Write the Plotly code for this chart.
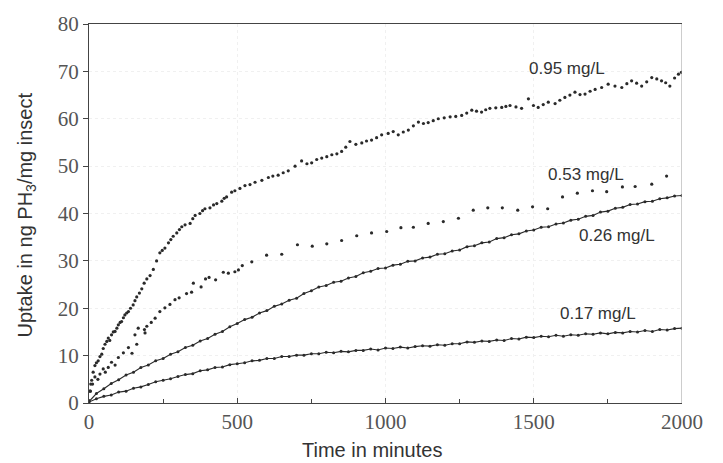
import plotly.graph_objects as go

# ---- data ----
t_grid = list(range(0, 2001, 25))

uptake_017 = [0.2, 0.9, 1.4, 1.7, 2.3, 2.5, 3.1, 3.4, 3.9, 4.5, 4.8, 5.1, 5.6, 6.0, 6.2, 6.8, 7.0, 7.5, 7.6, 8.1,
              8.3, 8.5, 8.9, 9.0, 9.4, 9.4, 9.8, 9.8, 10.1, 10.1, 10.4, 10.4, 10.7, 10.6, 10.9, 10.8, 11.1, 11.1, 11.4, 11.2,
              11.6, 11.5, 11.8, 11.6, 11.9, 12.1, 12.0, 12.3, 12.2, 12.5, 12.5, 12.9, 12.8, 13.1, 13.0, 13.3, 13.2, 13.6, 13.5, 13.9,
              13.8, 14.1, 14.0, 14.3, 14.1, 14.4, 14.3, 14.6, 14.5, 14.8, 14.6, 14.9, 14.8, 15.1, 15.0, 15.3, 15.1, 15.5, 15.4, 15.7, 15.8]

uptake_026 = [0.3, 2.0, 3.0, 4.1, 4.9, 5.9, 6.5, 7.5, 8.0, 8.9, 9.4, 10.3, 10.8, 11.7, 12.2, 13.1, 13.6, 14.5, 15.1, 16.1,
              16.8, 17.6, 18.1, 19.0, 19.5, 20.4, 20.9, 21.7, 22.1, 23.1, 23.7, 24.5, 24.8, 25.5, 25.7, 26.4, 26.7, 27.5, 27.8, 28.4,
              28.5, 29.1, 29.3, 29.9, 30.0, 30.6, 30.8, 31.4, 31.5, 32.1, 32.3, 33.0, 33.2, 33.8, 34.0, 34.7, 34.9, 35.5, 35.7, 36.3,
              36.5, 37.1, 37.2, 37.8, 38.0, 38.6, 38.8, 39.4, 39.6, 40.3, 40.5, 41.1, 41.3, 41.9, 42.0, 42.5, 42.6, 43.1, 43.3, 43.7, 43.8]

t_053 = [5, 12, 20, 30, 37, 48, 55, 65, 76, 88, 99, 116, 133, 145, 155, 161, 166, 187, 189, 195,
         210, 223, 239, 256, 273, 290, 304, 329, 346, 352, 378, 393, 405, 427, 453, 470, 492, 504, 517, 549,
         599, 650, 703, 753, 802, 852, 903, 953, 1004, 1052, 1094, 1144, 1195, 1246, 1296, 1345, 1394, 1446, 1496, 1547,
         1597, 1647, 1698, 1746, 1799, 1842, 1898, 1948]
uptake_053 = [2.5, 4.0, 5.5, 5.0, 6.1, 7.2, 6.5, 7.5, 8.6, 8.0, 9.6, 10.6, 11.7, 10.5, 14.4, 12.4, 15.8, 15.5, 14.8, 16.2,
              17.0, 17.9, 19.3, 20.1, 20.8, 21.8, 22.2, 23.1, 23.4, 25.3, 24.5, 26.2, 26.5, 26.0, 27.6, 27.4, 27.7, 28.1, 29.0, 29.8,
              31.2, 31.4, 33.4, 33.1, 33.6, 34.3, 35.3, 35.9, 36.2, 37.0, 37.1, 37.9, 38.3, 39.0, 40.7, 41.2, 41.2, 40.7, 41.4, 41.0,
              43.5, 44.3, 44.8, 44.6, 45.6, 45.7, 46.2, 47.9]

t_095 = [0, 3, 6, 9, 14, 20, 25, 31, 37, 43, 48, 54, 60, 65, 70, 76, 82, 88, 94, 99,
         105, 110, 116, 121, 127, 133, 140, 149, 155, 161, 170, 178, 186, 195, 206, 217, 228, 239, 247, 256,
         268, 276, 284, 296, 305, 313, 324, 341, 350, 358, 374, 383, 391, 408, 420, 431, 448, 456, 464, 481,
         492, 509, 526, 543, 560, 583, 605, 620, 638, 655, 672, 695, 717, 735, 751, 768, 785, 802, 819, 836,
         852, 866, 880, 900, 920, 936, 953, 970, 987, 1009, 1026, 1043, 1060, 1077, 1094, 1111, 1128, 1144, 1161, 1178,
         1198, 1218, 1237, 1257, 1274, 1291, 1307, 1324, 1338, 1352, 1372, 1392, 1406, 1420, 1440, 1459, 1482, 1499, 1515, 1532,
         1549, 1572, 1588, 1605, 1622, 1639, 1656, 1673, 1690, 1707, 1729, 1751, 1774, 1797, 1814, 1830, 1847, 1864, 1881, 1898,
         1915, 1931, 1945, 1959, 1975, 1988, 1998]
uptake_095 = [0.5, 2.5, 4.0, 4.8, 6.5, 7.9, 8.5, 8.9, 9.8, 10.3, 11.5, 12.4, 13.0, 13.7, 13.2, 14.4, 15.0, 15.1, 15.8, 16.5,
              17.0, 17.2, 18.0, 18.6, 19.0, 19.3, 20.0, 20.7, 21.6, 22.4, 23.2, 24.1, 25.3, 26.2, 26.9, 28.2, 30.0, 31.7, 32.2, 32.7,
              33.8, 34.5, 35.2, 35.9, 36.6, 37.2, 37.6, 37.9, 38.9, 39.6, 40.0, 40.6, 41.0, 41.2, 41.8, 42.1, 42.6, 43.2, 43.5, 44.5,
              44.8, 45.3, 45.9, 46.1, 46.6, 47.0, 47.6, 47.9, 48.1, 48.6, 49.0, 50.0, 51.1, 50.5, 50.7, 51.4, 51.7, 52.0, 52.4, 52.6,
              53.1, 54.0, 55.2, 54.6, 54.9, 55.3, 55.5, 56.0, 56.6, 56.9, 57.3, 56.6, 57.2, 57.6, 58.5, 59.3, 59.0, 59.2, 59.6, 60.0,
              60.2, 60.4, 60.5, 60.7, 61.2, 61.8, 61.6, 61.4, 61.9, 62.2, 62.3, 62.4, 62.6, 62.8, 62.5, 62.2, 64.2, 62.8, 62.4, 63.0,
              63.5, 63.2, 63.9, 64.5, 65.0, 65.6, 65.1, 65.2, 65.8, 66.2, 66.6, 67.3, 66.9, 66.6, 67.4, 68.0, 67.5, 66.9, 67.8, 68.7,
              68.4, 68.0, 67.6, 66.9, 68.6, 69.4, 69.8]

labels = ["0.95 mg/L", "0.53 mg/L", "0.26 mg/L", "0.17 mg/L"]
label_t = [1612, 1676, 1781, 1717]
label_y = [70.7, 48.3, 35.4, 18.9]

x_ticks = [0, 500, 1000, 1500, 2000]
y_ticks = [0, 10, 20, 30, 40, 50, 60, 70, 80]

# ---- figure ----
ink = "#2a2a2a"
fig = go.Figure()
fig.add_trace(go.Scatter(x=t_grid, y=uptake_017, mode="lines+markers",
                         line=dict(color=ink, width=1.1), marker=dict(size=3, color=ink)))
fig.add_trace(go.Scatter(x=t_grid, y=uptake_026, mode="lines+markers",
                         line=dict(color=ink, width=1.1), marker=dict(size=3, color=ink)))
fig.add_trace(go.Scatter(x=t_053, y=uptake_053, mode="markers",
                         marker=dict(size=3.2, color=ink)))
fig.add_trace(go.Scatter(x=t_095, y=uptake_095, mode="markers",
                         marker=dict(size=3.2, color=ink)))

for txt, tx, ty in zip(labels, label_t, label_y):
    fig.add_annotation(x=tx, y=ty, text=txt, showarrow=False,
                       font=dict(family="Liberation Sans, Arial", size=17, color="#333"))

# axis titles
fig.add_annotation(xref="paper", yref="paper", x=0.477, y=-0.124, text="Time in minutes",
                   showarrow=False, xanchor="center", yanchor="middle",
                   font=dict(family="Liberation Sans, Arial", size=20, color="#333"))
fig.add_annotation(xref="paper", yref="paper", x=-0.106, y=0.495,
                   text="Uptake in ng PH<sub>3</sub>/mg insect", textangle=-90,
                   showarrow=False, xanchor="center", yanchor="middle",
                   font=dict(family="Liberation Sans, Arial", size=20, color="#333"))

# faint right border
fig.add_shape(type="line", xref="x", yref="paper", x0=2000, x1=2000, y0=0, y1=1,
              line=dict(color="#9a9a9a", width=1))

fig.update_layout(
    width=723, height=463,
    margin=dict(l=89, r=41, t=17, b=60),
    paper_bgcolor="white", plot_bgcolor="white",
    showlegend=False,
    xaxis=dict(range=[0, 2000], tickvals=x_ticks, ticktext=[str(v) for v in x_ticks],
               showline=True, linecolor="#444", linewidth=1.3, mirror=True,
               ticks="inside", ticklen=5, tickcolor="#444",
               minor=dict(ticks="inside", dtick=250, ticklen=4, tickcolor="#444"),
               showgrid=True, gridcolor="#f0f0f0", griddash="dot", zeroline=False,
               tickfont=dict(family="Liberation Serif, Times New Roman", size=21, color="#555")),
    yaxis=dict(range=[0, 80], tickvals=y_ticks, ticktext=[str(v) for v in y_ticks],
               showline=True, linecolor="#444", linewidth=1.3,
               ticks="outside", ticklen=5, tickcolor="#444",
               showgrid=True, gridcolor="#f0f0f0", griddash="dot", zeroline=False,
               tickfont=dict(family="Liberation Serif, Times New Roman", size=21, color="#555")),
)

fig.write_html("out.html")
